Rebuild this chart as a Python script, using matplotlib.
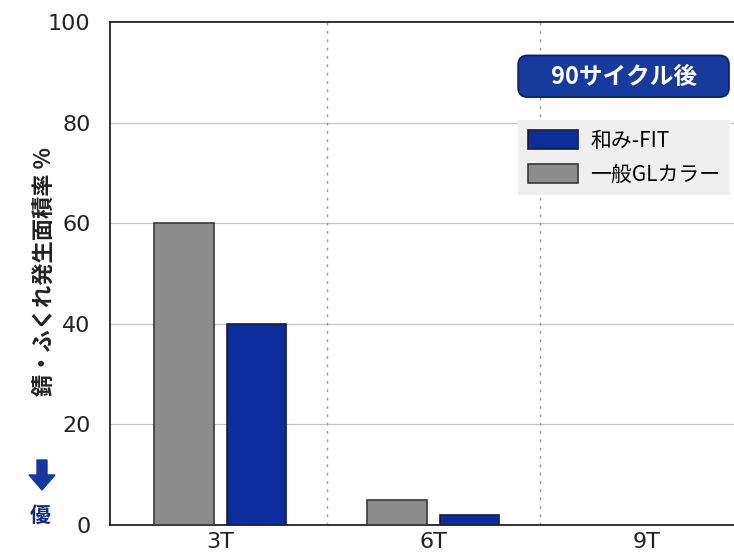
import matplotlib.pyplot as plt
from matplotlib.patches import FancyBboxPatch, FancyArrow
import numpy as np

plt.rcParams['font.family'] = ['Noto Sans CJK JP', 'DejaVu Sans']

# data
categories = ['3T', '6T', '9T']
general_gl = [60, 5, 0]     # 一般GLカラー (gray)
nagomi_fit = [40, 2, 0]     # 和み-FIT (blue)
yticks = [0, 20, 40, 60, 80, 100]

gray = '#8c8c8c'
blue = '#0c2d9e'

fig = plt.figure(figsize=(7.34, 5.55), dpi=100)
ax = fig.add_axes([0.150, 0.054, 0.85, 0.906])

x = np.arange(len(categories))
w = 0.28
# no outline on empty bars
ec_gray = ['#3a3a3a' if v > 0 else 'none' for v in general_gl]
ec_blue = ['#1a1a40' if v > 0 else 'none' for v in nagomi_fit]
ax.bar(x - 0.17, general_gl, w, color=gray, edgecolor=ec_gray, linewidth=1.2,
       label='一般GLカラー', zorder=3)
ax.bar(x + 0.17, nagomi_fit, w, color=blue, edgecolor=ec_blue, linewidth=1.2,
       label='和み-FIT', zorder=3)

ax.set_xlim(-0.518, 2.412)
ax.set_ylim(0, 100)
ax.set_yticks(yticks)
ax.set_xticks(x)
ax.set_xticklabels(categories)
ax.tick_params(axis='both', length=0, labelsize=16, colors='#222222')
ax.tick_params(axis='y', pad=14)
ax.tick_params(axis='x', pad=5)
for t in ax.get_xticklabels() + ax.get_yticklabels():
    t.set_family('DejaVu Sans')

# grid
for v in yticks[1:-1]:
    ax.axhline(v, color='#c4c4c4', lw=0.9, zorder=1)
for v in [0.5, 1.5]:
    ax.axvline(v, color='#9a9a9a', lw=1.0, ls=(0, (2, 4)), zorder=1)

for s in ['left', 'bottom', 'top']:
    ax.spines[s].set_color('#222222')
    ax.spines[s].set_linewidth(1.3)
ax.spines['right'].set_visible(False)

ax.set_ylabel('錆・ふくれ発生面積率 %', fontsize=16, fontweight='bold', color='#222222')
ax.yaxis.set_label_coords(-0.085, 0.505)

# legend (blue first)
h, l = ax.get_legend_handles_labels()
leg = ax.legend(h[::-1], l[::-1], loc='upper left', bbox_to_anchor=(0.654, 0.805),
                fontsize=15, frameon=True, fancybox=False, handlelength=2.4,
                handleheight=1.0, borderpad=0.45, labelspacing=0.58, handletextpad=0.6,
                borderaxespad=0)
leg.get_frame().set_facecolor('#efefef')
leg.get_frame().set_edgecolor('none')
leg.get_frame().set_alpha(1)

# title box
box = FancyBboxPatch((0.654, 0.851), 0.338, 0.083, transform=ax.transAxes,
                     boxstyle='round,pad=0,rounding_size=0.015', mutation_aspect=1.24,
                     facecolor='#163a9e', edgecolor='#0a1f66', lw=1.2, zorder=5)
ax.add_patch(box)
ax.text(0.823, 0.892, '90サイクル後', transform=ax.transAxes, ha='center', va='center',
        fontsize=17, fontweight='bold', color='white', zorder=6)

# "better" arrow and label
arr = FancyArrow(0.42, 0.95, 0, -0.30, width=0.10, head_width=0.26, head_length=0.15,
                 length_includes_head=True, transform=fig.dpi_scale_trans,
                 color='#1538a0')
fig.add_artist(arr)
fig.text(0.40, 0.40, '優', transform=fig.dpi_scale_trans, ha='center', va='center',
         fontsize=15, fontweight='bold', color='#102a80')

fig.savefig('out.png', dpi=100)
